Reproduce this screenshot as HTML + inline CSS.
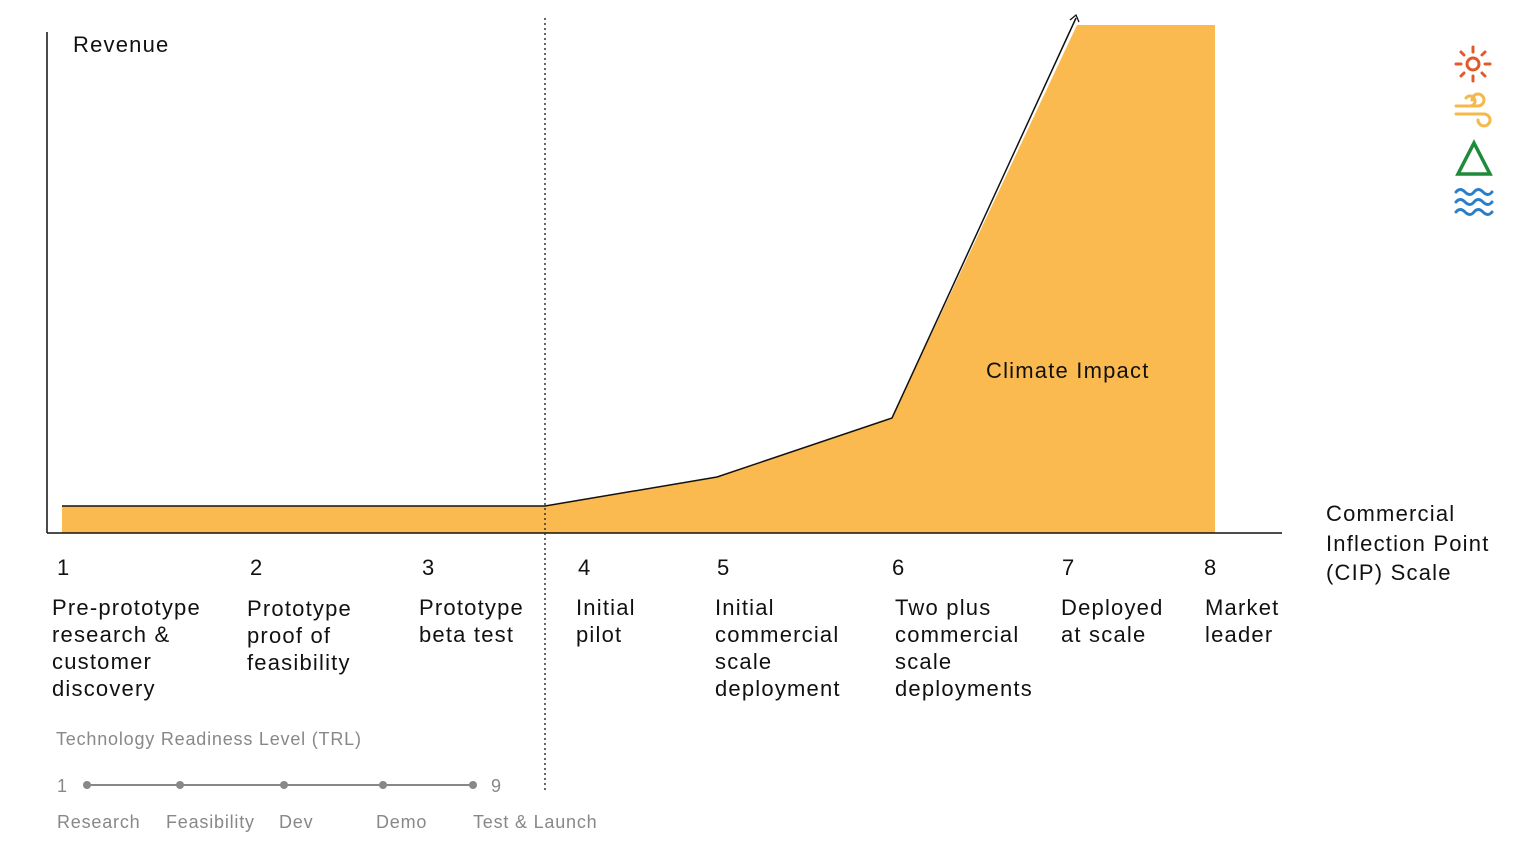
<!DOCTYPE html>
<html><head><style>
html,body{margin:0;padding:0;background:#fff;}
svg{display:block;}
text{font-family:"Liberation Sans",sans-serif;}
.m{font-size:22px;letter-spacing:1.2px;fill:#111;}
.g{font-size:18px;letter-spacing:0.8px;fill:#888;}
</style></head><body>
<svg width="1536" height="864" viewBox="0 0 1536 864" xmlns="http://www.w3.org/2000/svg">
<polygon points="62,506 545,506 717,477 892,418 1077,25 1215,25 1215,533 62,533" fill="#FBBA50"/>
<polyline points="62,506 545,506 717,477 892,418 1076,18" fill="none" stroke="#111" stroke-width="1.5"/>
<polyline points="1070,20 1076,15 1079,22" fill="none" stroke="#111" stroke-width="1.3"/>
<line x1="47" y1="32" x2="47" y2="533" stroke="#111" stroke-width="1.5"/>
<line x1="47" y1="533" x2="1282" y2="533" stroke="#111" stroke-width="1.5"/>
<line x1="545" y1="18" x2="545" y2="790" stroke="#333" stroke-width="1.5" stroke-dasharray="2,3"/>
<g class="m">
<text x="73" y="52">Revenue</text>
<text x="986" y="378">Climate Impact</text>
<text x="1326" y="521">Commercial</text>
<text x="1326" y="551">Inflection Point</text>
<text x="1326" y="580">(CIP) Scale</text>
<text x="57" y="575">1</text><text x="250" y="575">2</text><text x="422" y="575">3</text><text x="578" y="575">4</text>
<text x="717" y="575">5</text><text x="892" y="575">6</text><text x="1062" y="575">7</text><text x="1204" y="575">8</text>
<text x="52" y="615">Pre-prototype</text><text x="52" y="642">research &amp;</text><text x="52" y="669">customer</text><text x="52" y="696">discovery</text>
<text x="247" y="616">Prototype</text><text x="247" y="643">proof of</text><text x="247" y="670">feasibility</text>
<text x="419" y="615">Prototype</text><text x="419" y="642">beta test</text>
<text x="576" y="615">Initial</text><text x="576" y="642">pilot</text>
<text x="715" y="615">Initial</text><text x="715" y="642">commercial</text><text x="715" y="669">scale</text><text x="715" y="696">deployment</text>
<text x="895" y="615">Two plus</text><text x="895" y="642">commercial</text><text x="895" y="669">scale</text><text x="895" y="696">deployments</text>
<text x="1061" y="615">Deployed</text><text x="1061" y="642">at scale</text>
<text x="1205" y="615">Market</text><text x="1205" y="642">leader</text>
</g>
<g class="g">
<text x="56" y="745">Technology Readiness Level (TRL)</text>
<text x="57" y="792">1</text><text x="491" y="792">9</text>
<text x="57" y="828">Research</text><text x="166" y="828">Feasibility</text><text x="279" y="828">Dev</text>
<text x="376" y="828">Demo</text><text x="473" y="828">Test &amp; Launch</text>
</g>
<line x1="87" y1="785" x2="473" y2="785" stroke="#888" stroke-width="2"/>
<g fill="#888"><circle cx="87" cy="785" r="4"/><circle cx="180" cy="785" r="4"/><circle cx="284" cy="785" r="4"/><circle cx="383" cy="785" r="4"/><circle cx="473" cy="785" r="4"/></g>
<g stroke="#E25A2B" stroke-width="3" fill="none" stroke-linecap="round">
<circle cx="1473" cy="64" r="6"/>
<line x1="1473" y1="47" x2="1473" y2="52"/><line x1="1473" y1="76" x2="1473" y2="81"/>
<line x1="1456" y1="64" x2="1461" y2="64"/><line x1="1485" y1="64" x2="1490" y2="64"/>
<line x1="1461" y1="52" x2="1464" y2="55"/><line x1="1482" y1="73" x2="1485" y2="76"/>
<line x1="1485" y1="52" x2="1482" y2="55"/><line x1="1464" y1="73" x2="1461" y2="76"/>
</g>
<g stroke="#F5B94A" stroke-width="3" fill="none" stroke-linecap="round">
<path d="M1456,106 H1478 A6,6 0 1,0 1472,100"/>
<path d="M1456,114 H1484 A6,6 0 1,1 1478,120"/>
<path d="M1466,98 A5,5 0 1,1 1470,106"/>
</g>
<polygon points="1474,143 1490,174 1458,174" fill="none" stroke="#1E8A3A" stroke-width="3.5"/>
<g stroke="#2A7FC8" stroke-width="3" fill="none" stroke-linecap="round">
<path d="M1456,192 q4,-5 9,0 t9,0 t9,0 t9,0"/>
<path d="M1456,202 q4,-5 9,0 t9,0 t9,0 t9,0"/>
<path d="M1456,212 q4,-5 9,0 t9,0 t9,0 t9,0"/>
</g>
</svg>
</body></html>
